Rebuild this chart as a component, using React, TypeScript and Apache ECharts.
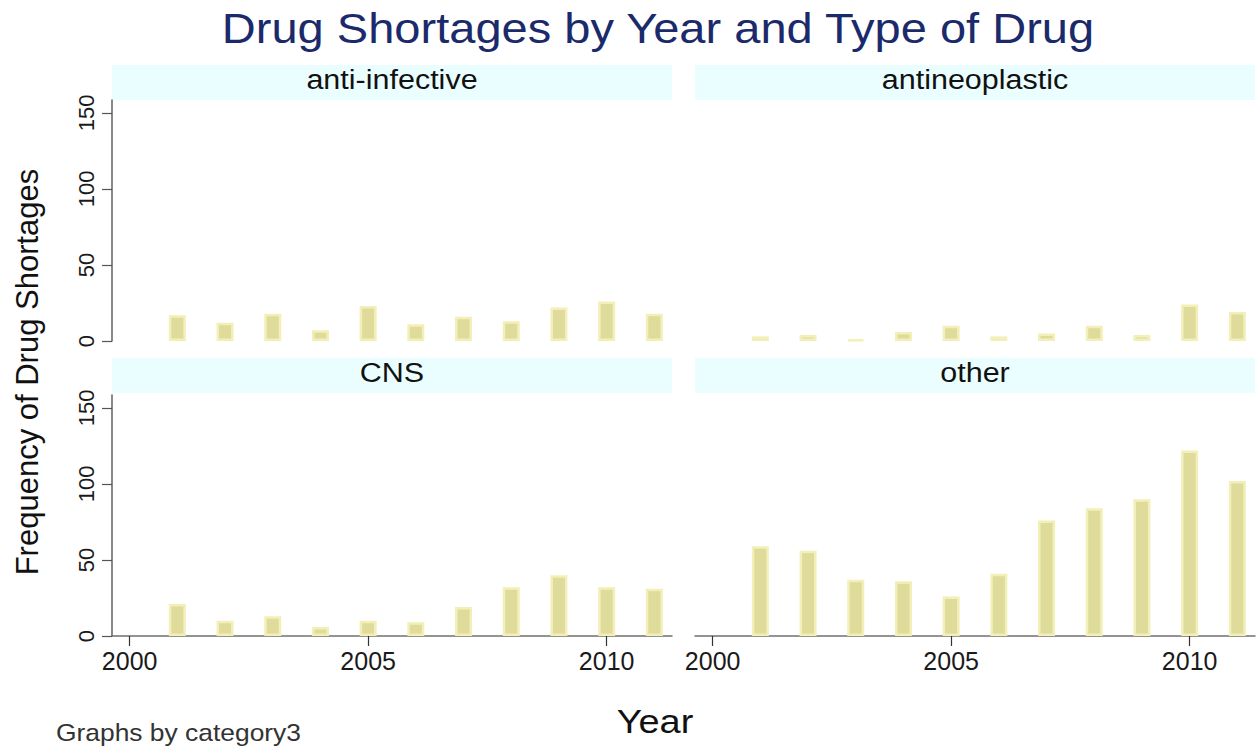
import React, { useEffect, useRef } from "react";
import * as echarts from "echarts";

const years = [2001, 2002, 2003, 2004, 2005, 2006, 2007, 2008, 2009, 2010, 2011];
const antiInfective = [17, 12, 18, 7, 23, 11, 16, 13, 22, 26, 18];
const antineoplastic = [3, 4, 1, 6, 10, 3, 5, 10, 4, 24, 19];
const cns = [21, 10, 13, 6, 10, 9, 19, 32, 40, 32, 31];
const other = [59, 56, 37, 36, 26, 41, 76, 84, 90, 122, 102];
const panelNames = ["anti-infective", "antineoplastic", "CNS", "other"];
const xTicks = [2000, 2005, 2010];
const yTicks = [0, 50, 100, 150];

const FONT = "'Liberation Sans', Arial, sans-serif";

export default function App() {
  const ref = useRef<HTMLDivElement>(null);
  useEffect(() => {
    if (!ref.current) return;
    const chart = echarts.init(ref.current, null, { renderer: "svg" });
    const panels = [antiInfective, antineoplastic, cns, other];
    const lefts = [112, 695, 112, 695];
    const tops = [100, 100, 395, 395];
    const grids = panels.map((_, i) => ({
      left: lefts[i],
      top: tops[i],
      width: 560,
      height: 241,
      containLabel: false,
    }));
    const xAxes = panels.map((_, i) => ({
      type: "value",
      gridIndex: i,
      min: 1999.63,
      max: 2011.37,
      show: i >= 2,
      splitLine: { show: false },
      axisLine: { show: true, lineStyle: { color: "#707070", width: 1.5 } },
      axisTick: {
        show: true,
        customValues: xTicks,
        length: 10,
        lineStyle: { color: "#333", width: 1.2 },
      },
      axisLabel: {
        customValues: xTicks,
        formatter: (v: number) => String(v),
        fontSize: 25,
        color: "#1a1a1a",
        fontFamily: FONT,
        margin: 12,
      },
    }));
    const yAxes = panels.map((_, i) => ({
      type: "value",
      gridIndex: i,
      min: 0,
      max: 158.5,
      show: i % 2 === 0,
      splitLine: { show: false },
      axisLine: { show: true, lineStyle: { color: "#606060", width: 1.5 } },
      axisTick: {
        show: true,
        customValues: yTicks,
        length: 10,
        lineStyle: { color: "#555", width: 1.2 },
      },
      axisLabel: {
        customValues: yTicks,
        formatter: (v: number) => String(v),
        rotate: 90,
        fontSize: 22,
        color: "#1a1a1a",
        fontFamily: FONT,
        margin: 15,
      },
    }));
    const series = panels.map((vals, i) => ({
      type: "bar",
      xAxisIndex: i,
      yAxisIndex: i,
      data: years.map((y, j) => [y, vals[j]]),
      barWidth: 17,
      itemStyle: {
        color: "#dfdb9b",
        borderColor: "#f3efb8",
        borderWidth: 2.5,
      },
    }));
    const stripTops = [65, 65, 358, 358];
    const strips: any[] = [];
    panelNames.forEach((name, i) => {
      strips.push({
        type: "rect",
        shape: { x: lefts[i], y: stripTops[i], width: 560, height: 35 },
        style: { fill: "#ebfeff" },
        silent: true,
      });
      strips.push({
        type: "text",
        x: lefts[i] + 280,
        y: stripTops[i] + 15,
        scaleX: 1.13,
        style: {
          text: name,
          fontSize: 27,
          fontFamily: FONT,
          fill: "#111",
          align: "center",
          verticalAlign: "middle",
        },
      });
    });
    chart.setOption({
      animation: false,
      backgroundColor: "#ffffff",
      grid: grids,
      xAxis: xAxes,
      yAxis: yAxes,
      series,
      graphic: [
        ...strips,
        {
          type: "text",
          x: 658,
          y: 28,
          scaleX: 1.12,
          style: {
            text: "Drug Shortages by Year and Type of Drug",
            fontSize: 42,
            fontFamily: FONT,
            fill: "#1b2a6b",
            align: "center",
            verticalAlign: "middle",
          },
        },
        {
          type: "text",
          x: 655,
          y: 722,
          scaleX: 1.15,
          style: {
            text: "Year",
            fontSize: 33,
            fontFamily: FONT,
            fill: "#111",
            align: "center",
            verticalAlign: "middle",
          },
        },
        {
          type: "text",
          x: 56,
          y: 732,
          scaleX: 1.1,
          style: {
            text: "Graphs by category3",
            fontSize: 24,
            fontFamily: FONT,
            fill: "#333",
            align: "left",
            verticalAlign: "middle",
          },
        },
        {
          type: "text",
          x: 27,
          y: 372,
          rotation: Math.PI / 2,
          style: {
            text: "Frequency of Drug Shortages",
            fontSize: 31,
            fontFamily: FONT,
            fill: "#111",
            align: "center",
            verticalAlign: "middle",
          },
        },
      ],
    });
    return () => chart.dispose();
  }, []);
  return (
    <div
      ref={ref}
      style={{ position: "fixed", left: 0, top: 0, width: 1257, height: 747 }}
    />
  );
}
